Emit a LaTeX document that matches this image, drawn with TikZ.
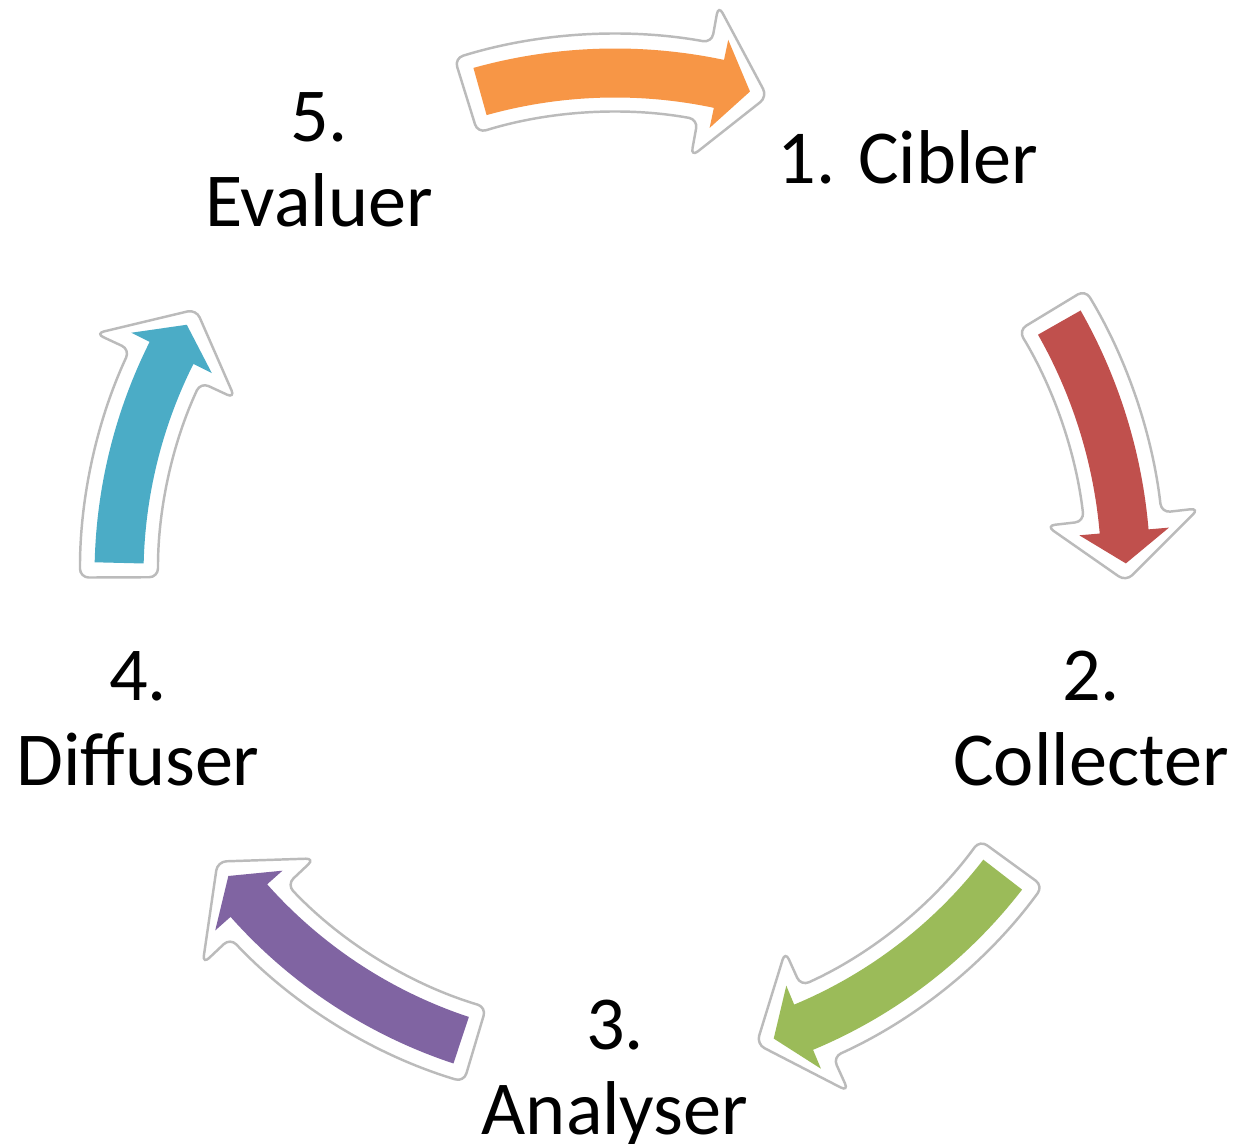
\documentclass[tikz,border=0pt]{standalone}
\usepackage{fontspec}
\setmainfont{Carlito}
\definecolor{cycOrange}{HTML}{F79646}
\definecolor{cycRed}{HTML}{C0504D}
\definecolor{cycGreen}{HTML}{9BBB59}
\definecolor{cycPurple}{HTML}{8064A2}
\definecolor{cycBlue}{HTML}{4BACC6}
\definecolor{rimgray}{HTML}{BBBBBB}
% radius, tail angle, head angle, tip angle, body half width, head half width
\newcommand\arrowshape[6]{({#2}:{#1+#5})arc[start angle=#2,end angle=#3,radius=#1+#5]
  --({#3}:{#1+#6})--({#4}:{#1})--({#3}:{#1-#6})--({#3}:{#1-#5})arc[start angle=#3,end angle=#2,radius=#1-#5]--cycle}
\tikzset{
  steplabel/.style={align=center,inner sep=0pt,font=\fontsize{21.7}{24.2}\selectfont},
  arrowrim/.style={fill=white,draw=rimgray,line width=0.7pt,rounded corners=2.5pt}
}
\begin{document}
\begin{tikzpicture}
\useasboundingbox(0,0)rectangle(12.36,11.43);
\coordinate(ctr)at(6.15,5.68);
% colour/radius/tail angle/tip angle
\foreach \c/\r/\ta/\tb in {cycOrange/5.02/105.6/74.4,cycRed/5.11/29.6/1.3,cycGreen/4.90/-37.7/-71.1,cycPurple/4.90/-108.3/-142.1,cycBlue/4.96/178.6/149.7}  {
  \pgfmathsetmacro\hb{\tb+0.32/\r*57.3}
  \pgfmathsetmacro\ra{\ta+0.145/\r*57.3}
  \pgfmathsetmacro\rh{\hb+0.145/\r*57.3}
  \pgfmathsetmacro\rt{\tb-0.18/\r*57.3}
  \path[shift={(ctr)},arrowrim]\arrowshape{\r}{\ra}{\rh}{\rt}{0.39}{0.77};
  \path[shift={(ctr)},fill=\c]\arrowshape{\r}{\ta}{\hb}{\tb}{0.245}{0.45};
}
\node[steplabel](cibler)at(9.08,9.86){1. Cibler};
\node[steplabel](collecter)at(10.91,4.24){2.\\Collecter};
\node[steplabel](analyser)at(6.15,0.70){3.\\Analyser};
\node[steplabel](diffuser)at(1.38,4.24){4.\\Diffuser};
\node[steplabel](evaluer)at(3.19,9.83){5.\\Evaluer};
\end{tikzpicture}
\end{document}
